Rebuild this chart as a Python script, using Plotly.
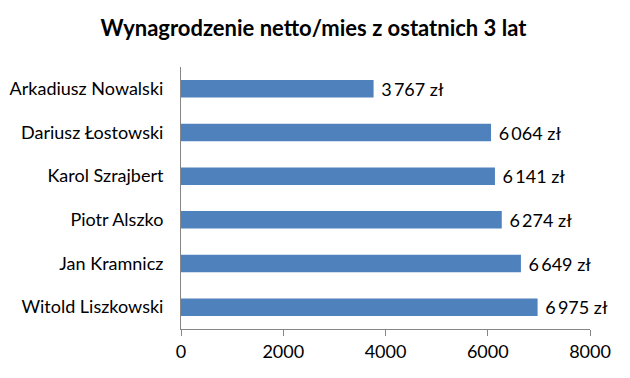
import plotly.graph_objects as go

names = ["Arkadiusz Nowalski", "Dariusz Łostowski", "Karol Szrajbert",
         "Piotr Alszko", "Jan Kramnicz", "Witold Liszkowski"]
values = [3767, 6064, 6141, 6274, 6649, 6975]
labels = [f"{v:,}".replace(",", "\u2009") + " zł" for v in values]
xticks = [0, 2000, 4000, 6000, 8000]

FONT = "Lato"

fig = go.Figure(go.Bar(
    y=names, x=values, orientation="h",
    marker=dict(color="#4F81BD", line=dict(width=0)),
    text=labels, texttemplate=" %{text}", textposition="outside",
    constraintext="none", cliponaxis=False,
    textfont=dict(family=FONT, size=18, color="#000000"),
    hoverinfo="skip",
))

# page body has an 8px default margin; figure is sized to fill the rest
fig.update_layout(
    width=622, height=370,
    margin=dict(l=173, r=40, t=59, b=49, autoexpand=False),
    paper_bgcolor="white", plot_bgcolor="white",
    bargap=0.6,
    showlegend=False,
    title=dict(text="<b>Wynagrodzenie netto/mies z ostatnich 3 lat</b>",
               x=0.491, xanchor="center", y=0.946, yanchor="middle",
               font=dict(family=FONT, size=22, color="#000000")),
    font=dict(family=FONT, size=18, color="#000000"),
)
fig.update_xaxes(range=[0, 8000], tickvals=xticks, ticktext=[str(t) for t in xticks],
                 showgrid=False, zeroline=False, automargin=False,
                 showline=True, linecolor="#868686", linewidth=1,
                 ticks="outside", ticklen=6, tickcolor="#868686",
                 tickfont=dict(family=FONT, size=18, color="#000000"))
fig.update_yaxes(autorange="reversed", showgrid=False, zeroline=False, automargin=False,
                 showline=True, linecolor="#868686", linewidth=1,
                 ticks="", ticklabelstandoff=13,
                 tickfont=dict(family=FONT, size=18, color="#000000"))

fig.write_html("out.html")
